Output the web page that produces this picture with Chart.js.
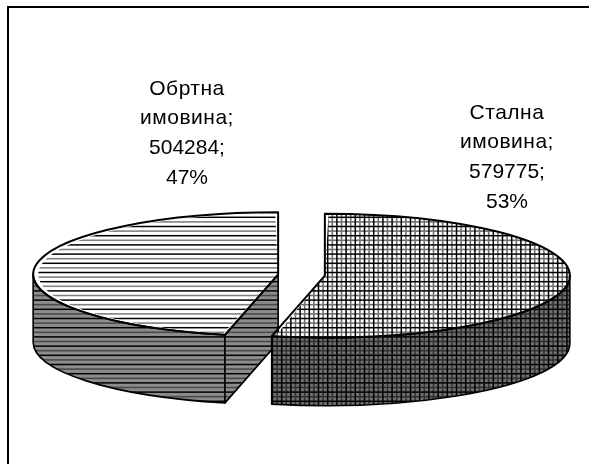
<!DOCTYPE html>
<html>
<head>
<meta charset="utf-8">
<style>html,body{margin:0;padding:0;background:#fff}canvas{display:block}</style>
<script src="https://cdn.jsdelivr.net/npm/chart.js@4"></script>
</head>
<body>
<canvas id="c" width="589" height="464"></canvas>
<script>
const categories = ['Обртна имовина', 'Стална имовина'];
const values = [504284, 579775];
const percents = [47, 53];

const SQUASH = 0.253, DEPTH = 68, TILE = 46, PERIOD = 9.2;

function tile(bg, line, mid, grid, phase) {
  const t = document.createElement('canvas');
  t.width = t.height = TILE;
  const g = t.getContext('2d');
  g.fillStyle = bg; g.fillRect(0, 0, TILE, TILE);
  for (let i = -1; i < 6; i++) {
    const p = i * PERIOD + phase;
    g.fillStyle = mid;
    g.fillRect(0, p + PERIOD / 2 - 0.8, TILE, 1.6);
    if (grid) g.fillRect(p + PERIOD / 2 - 0.8, 0, 1.6, TILE);
  }
  for (let i = -1; i < 6; i++) {
    const p = i * PERIOD + phase;
    g.fillStyle = line;
    g.fillRect(0, p - 0.75, TILE, 1.5);
    if (grid) g.fillRect(p - 0.75, 0, 1.5, TILE);
  }
  return g.createPattern(t, 'repeat');
}
const topPatterns = [tile('#fff', '#000', '#808080', false, 5.7), tile('#fff', '#000', '#707070', true, 5.7)];
const sidePatterns = [tile('#8c8c8c', '#000', '#4a4a4a', false, 5.7), tile('#707070', '#000', '#333', true, 5.7)];

function geom(arc) {
  const p = arc.getProps(['x', 'y', 'startAngle', 'endAngle', 'outerRadius'], true);
  const off = (arc.options.offset || 0) / 4;
  const mid = (p.startAngle + p.endAngle) / 2;
  return {
    s: p.startAngle, e: p.endAngle, r: p.outerRadius + off, y0: p.y, mid, off,
    cx: p.x + Math.cos(mid) * off,
    cy: p.y + Math.sin(mid) * off * SQUASH
  };
}

const pie3d = {
  id: 'pie3d',
  beforeDraw(chart) {
    const c = chart.ctx;
    c.save();
    c.fillStyle = '#fff'; c.fillRect(0, 0, chart.width, chart.height);
    c.strokeStyle = '#000'; c.lineWidth = 2;
    c.beginPath(); c.moveTo(8, chart.height); c.lineTo(8, 7); c.lineTo(chart.width, 7); c.stroke();
    c.restore();
  },
  beforeDatasetsDraw(chart) {
    const c = chart.ctx, arcs = chart.getDatasetMeta(0).data;
    arcs.forEach((arc, i) => {
      const g = geom(arc), ry = g.r * SQUASH;
      c.save();
      c.lineWidth = 1.6; c.strokeStyle = '#000'; c.lineJoin = 'round';
      c.fillStyle = sidePatterns[i];
      const TAU = Math.PI * 2;
      for (const k of [-TAU, 0, TAU]) {
        const lo = Math.max(g.s, k), hi = Math.min(g.e, Math.PI + k);
        if (hi <= lo) continue;
        c.beginPath();
        c.ellipse(g.cx, g.cy, g.r, ry, 0, lo, hi);
        c.ellipse(g.cx, g.cy + DEPTH, g.r, ry, 0, hi, lo, true);
        c.closePath(); c.fill(); c.stroke();
      }
      for (const [a, n] of [[g.s, g.s - Math.PI / 2], [g.e, g.e + Math.PI / 2]]) {
        if (Math.sin(n) <= 0.01) continue;
        const px = g.cx + Math.cos(a) * g.r, py = g.cy + Math.sin(a) * ry;
        c.beginPath();
        c.moveTo(g.cx, g.cy); c.lineTo(px, py); c.lineTo(px, py + DEPTH); c.lineTo(g.cx, g.cy + DEPTH);
        c.closePath(); c.fill(); c.stroke();
      }
      c.restore();
    });
  },
  beforeDatasetDraw(chart) {
    const c = chart.ctx, arcs = chart.getDatasetMeta(0).data;
    const y0 = geom(arcs[0]).y0;
    const sq = new DOMMatrix().translate(0, y0).scale(1, SQUASH).translate(0, -y0);
    arcs.forEach((arc, i) => {
      const g = geom(arc);
      const off = new DOMMatrix().translate(Math.cos(g.mid) * g.off, Math.sin(g.mid) * g.off);
      topPatterns[i].setTransform(sq.multiply(off).inverse());
    });
    c.save();
    c.transform(sq.a, sq.b, sq.c, sq.d, sq.e, sq.f);
  },
  afterDatasetDraw(chart) {
    const c = chart.ctx, arcs = chart.getDatasetMeta(0).data;
    c.restore();
    // crisp outline of each top face, re-stroked in screen space
    arcs.forEach(arc => {
      const g = geom(arc), ry = g.r * SQUASH;
      c.save();
      c.lineWidth = 2; c.strokeStyle = '#000'; c.lineJoin = 'round';
      c.beginPath();
      c.moveTo(g.cx, g.cy);
      c.ellipse(g.cx, g.cy, g.r, ry, 0, g.s, g.e);
      c.closePath(); c.stroke();
      c.restore();
    });
  },
  afterDraw(chart) {
    const c = chart.ctx;
    const anchors = [[187, 89], [507, 113]];
    c.save();
    c.fillStyle = '#000';
    c.font = '21px "Liberation Sans", Arial, sans-serif';
    c.textAlign = 'center'; c.textBaseline = 'middle';
    categories.forEach((name, i) => {
      const w = name.split(' ');
      const lines = [w[0], w[1] + ';', values[i] + ';', percents[i] + '%'];
      lines.forEach((t, j) => {
        c.letterSpacing = j < 2 ? '0.5px' : '0px';
        c.fillText(t, anchors[i][0], anchors[i][1] + j * 29.7);
      });
    });
    c.restore();
  }
};

const total = values[0] + values[1];
new Chart(document.getElementById('c'), {
  type: 'pie',
  data: {
    labels: categories,
    datasets: [{
      data: values,
      backgroundColor: topPatterns,
      borderWidth: 0,
      offset: 94,
      radius: 221.5
    }]
  },
  options: {
    responsive: false,
    animation: false,
    events: [],
    rotation: -values[0] / total * 360,
    layout: { padding: { left: 14, top: 86 } },
    plugins: { legend: { display: false }, tooltip: { enabled: false } }
  },
  plugins: [pie3d]
});
</script>
</body>
</html>
